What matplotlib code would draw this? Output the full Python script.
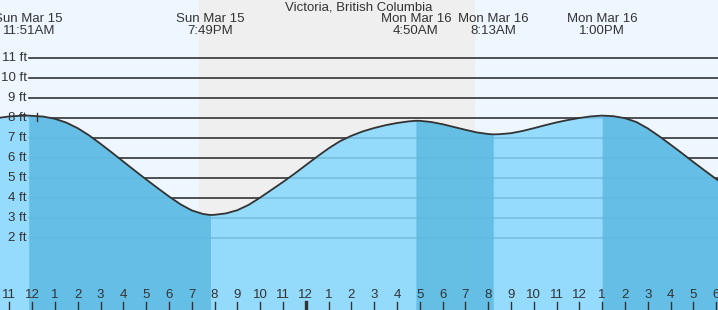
import matplotlib
matplotlib.use("Agg")
import matplotlib.pyplot as plt
import matplotlib.transforms as mtransforms

# hours since Sun Mar 15 00:00, tide height in ft
times = [10.5, 11.0, 11.5, 11.85, 12.5, 13.0, 13.5, 14.0, 14.5, 15.0, 15.5,
         16.0, 16.5, 17.0, 17.5, 18.0, 18.5, 19.0, 19.5, 19.82,
         20.0, 20.5, 21.0, 21.5, 22.0, 22.5, 23.0, 23.5, 24.0, 24.5, 25.0,
         25.5, 26.0, 26.5, 27.0, 27.5, 28.0, 28.5, 28.83,
         29.0, 29.5, 30.0, 30.5, 31.0, 31.5, 32.0, 32.22,
         32.5, 33.0, 33.5, 34.0, 34.5, 35.0, 35.5, 36.0, 36.5, 37.0,
         37.5, 38.0, 38.5, 39.0, 39.5, 40.0, 40.5, 41.0, 41.5, 42.0, 42.1]
heights = [8.0, 8.08, 8.11, 8.12, 8.07, 7.96, 7.77, 7.49, 7.13, 6.71, 6.27,
           5.82, 5.37, 4.93, 4.50, 4.08, 3.69, 3.38, 3.20, 3.15,
           3.16, 3.23, 3.39, 3.66, 4.02, 4.41, 4.80, 5.21, 5.64, 6.07, 6.48,
           6.84, 7.11, 7.33, 7.50, 7.64, 7.75, 7.83, 7.86,
           7.86, 7.80, 7.69, 7.55, 7.41, 7.28, 7.20, 7.18,
           7.19, 7.24, 7.35, 7.49, 7.64, 7.78, 7.90, 8.00, 8.08, 8.12,
           8.09, 7.99, 7.80, 7.48, 7.09, 6.67, 6.24, 5.80, 5.37, 4.95, 4.87]

# high / low tide events
event_times = [11.85, 19.82, 28.83, 32.22, 37.0]
event_days = ["Sun Mar 15", "Sun Mar 15", "Mon Mar 16", "Mon Mar 16", "Mon Mar 16"]
event_clock = ["11:51AM", "7:49PM", "4:50AM", "8:13AM", "1:00PM"]

# falling tide spans (high -> low), drawn darker
falling = [(11.85, 19.82), (28.83, 32.22), (37.0, 42.2)]

# night (sunset / sunrise)
night = (19.32, 31.38)

hour_ticks = list(range(11, 43))
hour_labels = ["11", "12", "1", "2", "3", "4", "5", "6", "7", "8", "9", "10",
               "11", "12", "1", "2", "3", "4", "5", "6", "7", "8", "9", "10",
               "11", "12", "1", "2", "3", "4", "5", "6"]
midnight = 24

ft_levels = [2, 3, 4, 5, 6, 7, 8, 9, 10, 11]
ft_labels = ["2 ft", "3 ft", "4 ft", "5 ft", "6 ft", "7 ft", "8 ft", "9 ft", "10 ft", "11 ft"]

title = "Victoria, British Columbia"

plt.rcParams['font.family'] = ['Liberation Sans', 'DejaVu Sans']
txt = '#333333'

fig = plt.figure(figsize=(7.18, 3.10), dpi=100)
ax = fig.add_axes([0, 0, 1, 1])
ax.set_xlim(10.59, 42.08)
ax.set_ylim(-1.6, 13.9)
ax.axis('off')

ax.axvspan(10.0, 43.0, color='#eef7ff', zorder=0)
ax.axvspan(night[0], night[1], color='#efefef', zorder=0.5)

# grid lines (show through the fill a little)
for lv in ft_levels:
    ax.axhline(lv, xmin=29 / 718, xmax=1, color='#333333', lw=1.2, zorder=1)

ax.fill_between(times, -2, heights, color='#84d7fe', alpha=0.85, lw=0, zorder=2)
for a, b in falling:
    sub = [(t, h) for t, h in zip(times, heights) if a <= t <= b]
    ax.fill_between([p[0] for p in sub], -2, [p[1] for p in sub],
                    color='#5db9e1', alpha=0.85, lw=0, zorder=2.1)
ax.plot(times, heights, color='#333333', lw=1.3, zorder=3,
        solid_capstyle='round', solid_joinstyle='round')

# small marker near the first high tide
ax.plot([12.21, 12.21], [7.85, 8.25], color='#333333', lw=1.0, zorder=4)

ytr = mtransforms.blended_transform_factory(ax.transAxes, ax.transData)
for lv, lab in zip(ft_levels, ft_labels):
    ax.text(27 / 718, lv, lab, transform=ytr, ha='right', va='center',
            fontsize=9.5, color=txt, zorder=5)

xtr = mtransforms.blended_transform_factory(ax.transData, ax.transAxes)
for h, lab in zip(hour_ticks, hour_labels):
    ax.text(h, 1 - 295 / 310, lab, transform=xtr, ha='center', va='center',
            fontsize=9.5, color=txt, zorder=5)
    ax.plot([h, h], [0, 8 / 310], transform=xtr, color='#333333',
            lw=2.4 if h == midnight else 1.0, zorder=5, clip_on=False)

for t, d, c in zip(event_times, event_days, event_clock):
    ax.text(t, 1 - 19 / 310, d, transform=xtr, ha='center', va='center',
            fontsize=9.5, color=txt, zorder=5)
    ax.text(t, 1 - 31 / 310, c, transform=xtr, ha='center', va='center',
            fontsize=9.5, color=txt, zorder=5)

ax.text(0.5, 1 - 8 / 310, title, transform=ax.transAxes, ha='center', va='center',
        fontsize=9.5, color=txt, zorder=5)

fig.savefig('out.png', dpi=100)
